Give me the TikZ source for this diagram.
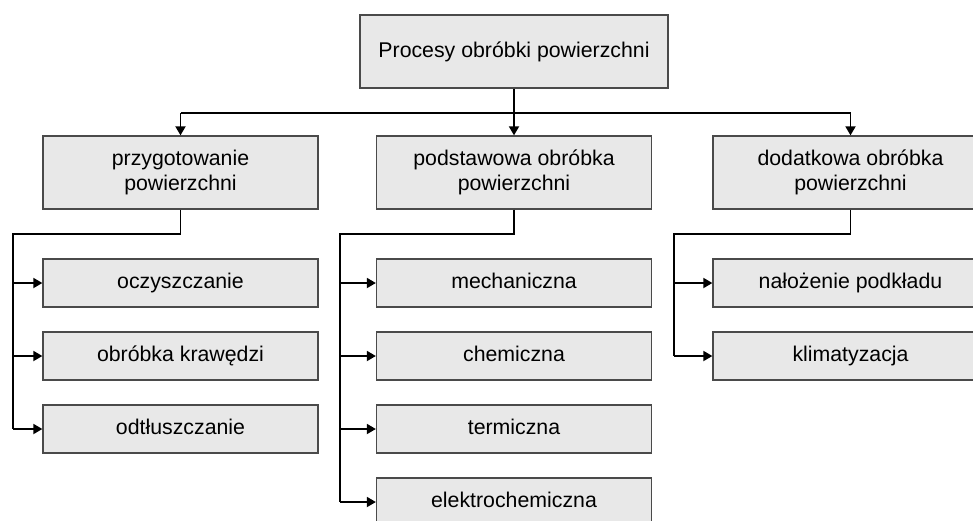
\documentclass[tikz,border=0pt]{standalone}
\usepackage{fontspec}
\setmainfont{Liberation Sans}
\usetikzlibrary{arrows.meta}
\definecolor{boxfill}{HTML}{E8E8E8}
\definecolor{boxline}{HTML}{4A4A4A}
\tikzset{
  stepbox/.style={draw=boxline, line width=1.3pt, fill=boxfill,
    font=\fontsize{21.3}{25}\selectfont, inner sep=0pt},
  headbox/.style={stepbox, minimum width=308pt, minimum height=73pt},
  groupbox/.style={stepbox, align=center, minimum width=275pt, minimum height=73pt},
  leafbox/.style={stepbox, minimum width=275pt, minimum height=48pt,
    text height=15pt, text depth=5pt},
  link/.style={line width=1.8pt, black},
  arrowlink/.style={link, -{Triangle[length=9pt,width=10pt]}}
}
\begin{document}
\begin{tikzpicture}[x=1pt,y=-1pt]
  \useasboundingbox (0,0) rectangle (973,520);
  \clip (0,0) rectangle (973,520);
  \fill[white] (0,0) rectangle (973,520);

  % root
  \node[headbox] (root) at (514,51.5) {Procesy obróbki powierzchni};

  % second level
  \node[groupbox] (prep) at (180.5,172.5) {przygotowanie\\powierzchni};
  \node[groupbox] (base) at (514,172.5) {podstawowa obróbka\\powierzchni};
  \node[groupbox] (extra) at (850.5,172.5) {dodatkowa obróbka\\powierzchni};

  % third level
  \node[leafbox] (p1) at (180.5,283) {oczyszczanie};
  \node[leafbox] (p2) at (180.5,356) {obróbka krawędzi};
  \node[leafbox] (p3) at (180.5,429) {odtłuszczanie};

  \node[leafbox] (b1) at (514,283) {mechaniczna};
  \node[leafbox] (b2) at (514,356) {chemiczna};
  \node[leafbox] (b3) at (514,429) {termiczna};
  \node[leafbox] (b4) at (514,502) {elektrochemiczna};

  \node[leafbox] (e1) at (850.5,283) {nałożenie podkładu};
  \node[leafbox] (e2) at (850.5,356) {klimatyzacja};

  % bus below the root
  \coordinate (bus) at (0,113);
  \draw[link] (prep.north |- bus) -- (extra.north |- bus);
  \draw[arrowlink] (root.south) -- (base.north);
  \draw[arrowlink] (prep.north |- bus) -- (prep.north);
  \draw[arrowlink] (extra.north |- bus) -- (extra.north);

  % branch spines
  \coordinate (sp) at (13,234);
  \coordinate (sb) at (340,234);
  \coordinate (se) at (674,234);

  \draw[link] (prep.south) -- (prep.south |- sp) -- (sp) -- (sp |- p3.west);
  \foreach \n in {p1,p2,p3}
    \draw[arrowlink] (sp |- \n.west) -- (\n.west);

  \draw[link] (base.south) -- (base.south |- sb) -- (sb) -- (sb |- b4.west);
  \foreach \n in {b1,b2,b3,b4}
    \draw[arrowlink] (sb |- \n.west) -- (\n.west);

  \draw[link] (extra.south) -- (extra.south |- se) -- (se) -- (se |- e2.west);
  \foreach \n in {e1,e2}
    \draw[arrowlink] (se |- \n.west) -- (\n.west);
\end{tikzpicture}
\end{document}
